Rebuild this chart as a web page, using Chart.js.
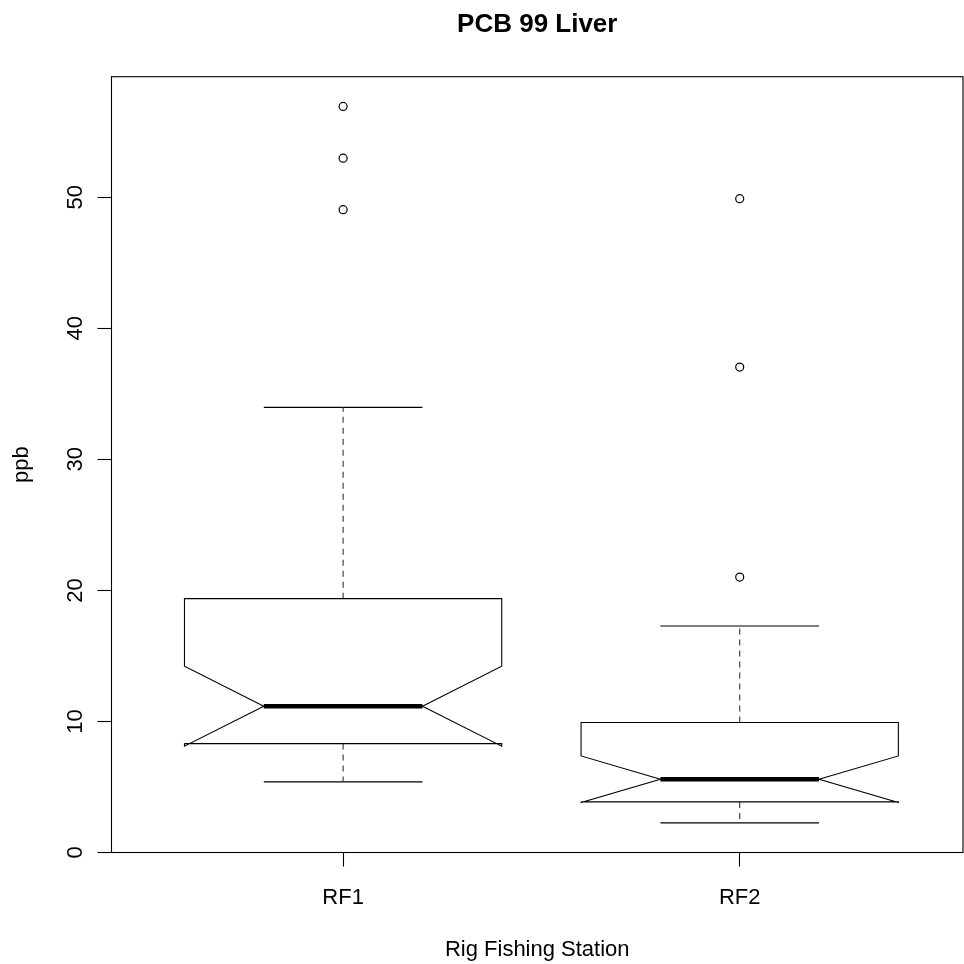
<!DOCTYPE html>
<html><head><meta charset="utf-8">
<script src="https://cdn.jsdelivr.net/npm/chart.js@4.4.0/dist/chart.umd.min.js"></script>
<style>html,body{margin:0;padding:0;background:#fff}canvas{display:block}</style>
</head><body>
<canvas id="c" width="964" height="964"></canvas>
<script>
// ---- data ----
const categories = ['RF1', 'RF2'];
const whiskerLow = [5.39, 2.26];
const hingeLow = [8.31, 3.86];
const medians = [11.16, 5.59];
const hingeHigh = [19.37, 9.92];
const whiskerHigh = [33.97, 17.28];
const notchLow = [8.11, 3.81];
const notchHigh = [14.21, 7.37];
const outliers = [[56.93, 52.98, 49.05], [49.89, 37.04, 21.02]];
const yTickValues = [0, 10, 20, 30, 40, 50];

// ---- style constants ----
const FONT = "'Liberation Sans', Arial, Helvetica, sans-serif";
const BOX_HALF = 0.4, NOTCH_HALF = 0.2, STAPLE_HALF = 0.2;

const datasets = [];
categories.forEach((c, i) => {
  const x = i + 1;
  const poly = [
    {x: x - BOX_HALF, y: hingeLow[i]},
    {x: x - BOX_HALF, y: notchLow[i]},
    {x: x - NOTCH_HALF, y: medians[i]},
    {x: x - BOX_HALF, y: notchHigh[i]},
    {x: x - BOX_HALF, y: hingeHigh[i]},
    {x: x + BOX_HALF, y: hingeHigh[i]},
    {x: x + BOX_HALF, y: notchHigh[i]},
    {x: x + NOTCH_HALF, y: medians[i]},
    {x: x + BOX_HALF, y: notchLow[i]},
    {x: x + BOX_HALF, y: hingeLow[i]},
    {x: x - BOX_HALF, y: hingeLow[i]}
  ];
  const base = {type: 'line', pointRadius: 0, borderColor: '#000', borderWidth: 1.1, fill: false, tension: 0, order: 2, borderJoinStyle: 'miter'};
  datasets.push(Object.assign({}, base, {label: c + ' box', data: poly}));
  datasets.push(Object.assign({}, base, {label: c + ' upper whisker', borderColor: '#333', borderDash: [6, 5],
    data: [{x: x, y: hingeHigh[i]}, {x: x, y: whiskerHigh[i]}]}));
  datasets.push(Object.assign({}, base, {label: c + ' lower whisker', borderColor: '#333', borderDash: [6, 5],
    data: [{x: x, y: hingeLow[i]}, {x: x, y: whiskerLow[i]}]}));
  datasets.push(Object.assign({}, base, {label: c + ' upper staple',
    data: [{x: x - STAPLE_HALF, y: whiskerHigh[i]}, {x: x + STAPLE_HALF, y: whiskerHigh[i]}]}));
  datasets.push(Object.assign({}, base, {label: c + ' lower staple',
    data: [{x: x - STAPLE_HALF, y: whiskerLow[i]}, {x: x + STAPLE_HALF, y: whiskerLow[i]}]}));
  datasets.push(Object.assign({}, base, {label: c + ' median', borderWidth: 4.5, borderCapStyle: 'butt', order: 0,
    data: [{x: x - NOTCH_HALF, y: medians[i]}, {x: x + NOTCH_HALF, y: medians[i]}]}));
});
datasets.push({
  type: 'scatter', label: 'outliers', order: 1,
  data: outliers.flatMap((arr, i) => arr.map(v => ({x: i + 1, y: v}))),
  pointStyle: 'circle', pointRadius: 4, borderWidth: 1.2,
  borderColor: '#000', backgroundColor: 'rgba(0,0,0,0)'
});

const framePlugin = {
  id: 'frame',
  afterDraw(chart) {
    const {ctx, chartArea: a} = chart;
    ctx.save();
    ctx.strokeStyle = '#000';
    ctx.lineWidth = 1.1;
    ctx.strokeRect(a.left, a.top, a.right - a.left, a.bottom - a.top);
    ctx.restore();
  }
};

Chart.defaults.color = '#000';
Chart.defaults.font.family = FONT;

new Chart(document.getElementById('c'), {
  type: 'line',
  data: {datasets},
  plugins: [framePlugin],
  options: {
    responsive: false,
    animation: false,
    layout: {autoPadding: false, padding: {left: 0, right: 1, top: 0, bottom: 0}},
    plugins: {
      legend: {display: false},
      tooltip: {enabled: false},
      title: {
        display: true, text: 'PCB 99 Liver', color: '#000', fullSize: false,
        font: {family: FONT, size: 26, weight: 'bold', lineHeight: 1.2},
        padding: {top: 9.4, bottom: 36.1}
      }
    },
    scales: {
      x: {
        type: 'linear', min: 0.416, max: 2.563,
        afterBuildTicks: s => { s.ticks = categories.map((c, i) => ({value: i + 1})); },
        afterFit: s => { s.height = 111.5; },
        ticks: {
          callback: v => categories[v - 1],
          font: {family: FONT, size: 22}, color: '#000', padding: 18.5,
          maxRotation: 0, minRotation: 0, autoSkip: false
        },
        grid: {display: true, drawOnChartArea: false, drawTicks: true, tickLength: 14, tickColor: '#000', tickWidth: 1.1},
        border: {display: false},
        title: {display: true, text: 'Rig Fishing Station', color: '#000',
          font: {family: FONT, size: 22, lineHeight: 1.2}, padding: {top: 0, bottom: 0.5}}
      },
      y: {
        type: 'linear', min: 0, max: 59.2,
        afterBuildTicks: s => { s.ticks = yTickValues.map(v => ({value: v})); },
        afterFit: s => { s.width = 111.5; },
        ticks: {
          font: {family: FONT, size: 22}, color: '#000', padding: 9.8,
          minRotation: 90, maxRotation: 90, crossAlign: 'center', autoSkip: false
        },
        grid: {display: true, drawOnChartArea: false, drawTicks: true, tickLength: 14, tickColor: '#000', tickWidth: 1.1},
        border: {display: false},
        title: {display: true, text: 'ppb', color: '#000',
          font: {family: FONT, size: 22, lineHeight: 1.2}, padding: {top: 8.8, bottom: 0}}
      }
    }
  }
});
</script>
</body></html>
